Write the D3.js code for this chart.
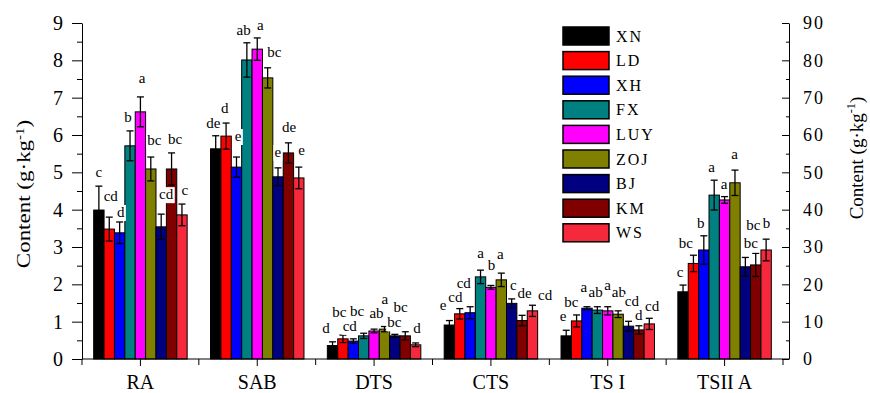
<!DOCTYPE html>
<html><head><meta charset="utf-8">
<script src="https://cdn.jsdelivr.net/npm/d3@7"></script>
<style>body{margin:0;background:#fff}svg{display:block}</style>
</head><body>
<svg id="chart" width="870" height="393"></svg>
<script>
// Soil sulfur fractions across nine sites
const categories = ["RA", "SAB", "DTS", "CTS", "TS I", "TSII A"];
const sites = ["XN", "LD", "XH", "FX", "LUY", "ZOJ", "BJ", "KM", "WS"];
const siteColors = ["#000000", "#ff0000", "#0000ff", "#008080", "#ff00ff", "#808000", "#000080", "#800000", "#f5283c"];

// Means (g·kg-1), one value per site; TSII A is read on the right axis
const meanRA   = [3.99, 3.48, 3.38, 5.71, 6.62, 5.09, 3.54, 5.09, 3.86];
const meanSAB  = [5.63, 5.97, 5.14, 8.01, 8.30, 7.53, 4.88, 5.52, 4.85];
const meanDTS  = [0.36, 0.54, 0.48, 0.62, 0.75, 0.80, 0.62, 0.62, 0.38];
const meanCTS  = [0.91, 1.21, 1.24, 2.20, 1.92, 2.12, 1.49, 1.03, 1.29];
const meanTSI  = [0.62, 1.02, 1.36, 1.31, 1.29, 1.20, 0.88, 0.78, 0.94];
const meanTSII = [18.0, 25.6, 29.2, 43.9, 42.6, 47.2, 24.7, 25.2, 29.2];

// Standard errors
const errRA   = [0.64, 0.32, 0.29, 0.40, 0.40, 0.32, 0.34, 0.43, 0.29];
const errSAB  = [0.35, 0.35, 0.27, 0.46, 0.30, 0.27, 0.24, 0.27, 0.29];
const errDTS  = [0.10, 0.10, 0.06, 0.07, 0.05, 0.07, 0.04, 0.11, 0.05];
const errCTS  = [0.12, 0.14, 0.16, 0.18, 0.05, 0.18, 0.12, 0.14, 0.15];
const errTSI  = [0.15, 0.16, 0.04, 0.09, 0.11, 0.09, 0.13, 0.11, 0.15];
const errTSII = [1.8, 2.2, 3.8, 4.0, 0.9, 3.4, 2.5, 3.1, 2.9];

// Significance letters
const sigRA   = ["c", "cd", "d", "b", "a", "bc", "cd", "bc", "c"];
const sigSAB  = ["de", "d", "e", "ab", "a", "bc", "e", "de", "e"];
const sigDTS  = ["d", "bc", "cd", "bc", "ab", "a", "bc", "bc", "d"];
const sigCTS  = ["e", "cd", "cd", "a", "b", "a", "c", "de", "cd"];
const sigTSI  = ["e", "bc", "a", "ab", "a", "ab", "cd", "d", "cd"];
const sigTSII = ["c", "bc", "b", "a", "a", "a", "bc", "bc", "b"];

const leftTicks = [0, 1, 2, 3, 4, 5, 6, 7, 8, 9];
const rightTicks = [0, 10, 20, 30, 40, 50, 60, 70, 80, 90];

// Letter placement tweaks (px) so neighbouring letters do not collide
const letterDx = [
  [0, 1.5, 1, -2, 1.7, 3.5, 5, 3.5, 3],
  [-2.3, -1.3, 1.7, -3.3, 3.2, 6.7, -0.3, 0.7, 2.7],
  [-6.6, -3.6, -3.6, -6.6, 2.4, 0.4, -0.6, -4.6, 1.4],
  [-6.4, -4.4, -6.4, 0, 0.6, -0.9, 1.6, 2.6, 12.6],
  [-3.2, -5.2, -3.2, -1.7, -0.2, 0.8, 3.3, -0.2, 2.8],
  [-3, -7.5, -3, -2.5, -0.5, -0.5, 5.5, -2.5, 0.5]
];
const letterLift = [
  [0, 7, -4, 0, 5, 3, 6, 0, 0],
  [-1, 1, 7, -1, -1, 2, 2, 2, 3],
  [0, 9, -1, 8, 2, 14, -2, 11, 1],
  [2, -2, 10, 3, 6, 5, 0, 8, -4],
  [0, -1, 6, 1, 8, 5, 6, -3, -2],
  [-1, -2, -1, -1, -1.5, 2, 0, 14, 2]
];

const means = [meanRA, meanSAB, meanDTS, meanCTS, meanTSI, meanTSII];
const errs = [errRA, errSAB, errDTS, errCTS, errTSI, errTSII];
const sigs = [sigRA, sigSAB, sigDTS, sigCTS, sigTSI, sigTSII];
const onRight = [false, false, false, false, false, true];

const svg = d3.select("#chart");
const serif = "'Liberation Serif', 'Times New Roman', serif";
const plotL = 82, plotR = 789, plotB = 359, plotT = 23;

const xCat = d3.scaleBand().domain(categories).range([plotL, plotR - 6]);
const xSite = d3.scaleBand().domain(sites)
  .range([xCat.bandwidth() * 0.1, xCat.bandwidth() * 0.9]);
const yL = d3.scaleLinear().domain([0, 9]).range([plotB, plotT]);
const yR = d3.scaleLinear().domain([0, 90]).range([plotB, plotT]);

// rows: one per bar
const rows = [];
categories.forEach((c, ci) => {
  sites.forEach((s, si) => {
    rows.push({c, ci, s, si, v: means[ci][si], e: errs[ci][si], sig: sigs[ci][si],
      y: onRight[ci] ? yR : yL});
  });
});

const g = svg.append("g");

// bars
g.selectAll("rect.bar").data(rows).join("rect")
  .attr("class", "bar")
  .attr("x", d => xCat(d.c) + xSite(d.s))
  .attr("width", xSite.bandwidth())
  .attr("y", d => d.y(d.v))
  .attr("height", d => d.y(0) - d.y(d.v))
  .attr("fill", d => siteColors[d.si])
  .attr("stroke", "#000").attr("stroke-width", 1);

// error bars (symmetric, capped both ends)
const eb = g.selectAll("g.err").data(rows).join("g").attr("class", "err")
  .attr("stroke", "#000").attr("stroke-width", 1.3).attr("fill", "none");
const cx = d => xCat(d.c) + xSite(d.s) + xSite.bandwidth() / 2;
eb.append("line").attr("x1", cx).attr("x2", cx)
  .attr("y1", d => d.y(d.v + d.e)).attr("y2", d => d.y(d.v - d.e));
eb.append("line").attr("x1", d => cx(d) - 3.5).attr("x2", d => cx(d) + 3.5)
  .attr("y1", d => d.y(d.v + d.e)).attr("y2", d => d.y(d.v + d.e));
eb.append("line").attr("x1", d => cx(d) - 3.5).attr("x2", d => cx(d) + 3.5)
  .attr("y1", d => d.y(d.v - d.e)).attr("y2", d => d.y(d.v - d.e));

// significance letters on white boxes
const lg = g.append("g");
rows.forEach(d => {
  const item = lg.append("g");
  const bg = item.append("rect").attr("fill", "#fff");
  const t = item.append("text")
    .attr("x", cx(d) + letterDx[d.ci][d.si])
    .attr("y", d.y(d.v + d.e) - 9 - letterLift[d.ci][d.si])
    .attr("text-anchor", "middle")
    .attr("font-family", serif).attr("font-size", 15)
    .attr("fill", "#000").text(d.sig);
  const b = t.node().getBBox();
  bg.attr("x", b.x - 1).attr("y", b.y + 1).attr("width", b.width + 2).attr("height", b.height);
});

// left axis
const axL = g.append("g").attr("transform", `translate(${plotL},0)`)
  .call(d3.axisLeft(yL).tickValues(leftTicks).tickSize(10).tickSizeOuter(0).tickPadding(9));
axL.selectAll("text").attr("font-family", serif).attr("font-size", 20);
g.append("g").attr("transform", `translate(${plotL},0)`)
  .call(d3.axisLeft(yL).tickValues(leftTicks.slice(0, -1).map(v => v + 0.5)).tickSize(5).tickFormat("").tickSizeOuter(0))
  .select(".domain").remove();

// right axis, ticks pointing inward
const axR = g.append("g").attr("transform", `translate(${plotR},0)`)
  .call(d3.axisRight(yR).tickValues(rightTicks).tickSize(-7).tickSizeOuter(0).tickPadding(14));
axR.selectAll("text").attr("font-family", serif).attr("font-size", 18).attr("letter-spacing", 2);
g.append("g").attr("transform", `translate(${plotR},0)`)
  .call(d3.axisRight(yR).tickValues(rightTicks.slice(0, -1).map(v => v + 5)).tickSize(-3).tickFormat("").tickSizeOuter(0))
  .select(".domain").remove();

// bottom axis
const axB = g.append("g").attr("transform", `translate(0,${plotB})`);
axB.append("line").attr("x1", plotL).attr("x2", plotR).attr("stroke", "#000");
categories.forEach(c => {
  const m = xCat(c) + xCat.bandwidth() / 2;
  axB.append("line").attr("x1", m).attr("x2", m).attr("y1", 0).attr("y2", 7).attr("stroke", "#000");
  axB.append("line").attr("x1", xCat(c)).attr("x2", xCat(c)).attr("y1", 0).attr("y2", 6).attr("stroke", "#000");
  axB.append("text").attr("x", m).attr("y", 30).attr("text-anchor", "middle")
    .attr("font-family", serif).attr("font-size", 20).text(c);
});
axB.append("line").attr("x1", xCat.range()[1]).attr("x2", xCat.range()[1])
  .attr("y1", 0).attr("y2", 6).attr("stroke", "#000");

g.selectAll(".domain, .tick line").attr("stroke", "#000");

// axis titles (glyphs slightly narrowed across the line)
function title(x, y, size, squeeze) {
  const t = svg.append("text")
    .attr("transform", `translate(${x},${y}) scale(${squeeze},1) rotate(-90)`)
    .attr("text-anchor", "middle").attr("font-family", serif).attr("font-size", size);
  t.append("tspan").text("Content (g·kg");
  t.append("tspan").attr("dy", -8).attr("font-size", size * 0.65).text("-1");
  t.append("tspan").attr("dy", 8).text(")");
}
title(30, 194, 23, 0.8);
title(863, 158, 19, 1);

// legend
const leg = svg.append("g");
sites.forEach((s, i) => {
  const y0 = 27 + i * 24.6;
  leg.append("rect").attr("x", 563).attr("y", y0).attr("width", 46).attr("height", 18)
    .attr("fill", siteColors[i]).attr("stroke", "#000").attr("stroke-width", 1.5);
  leg.append("text").attr("x", 616).attr("y", y0 + 14.5)
    .attr("font-family", serif).attr("font-size", 16).attr("letter-spacing", 2)
    .text(s);
});
</script>
</body></html>
